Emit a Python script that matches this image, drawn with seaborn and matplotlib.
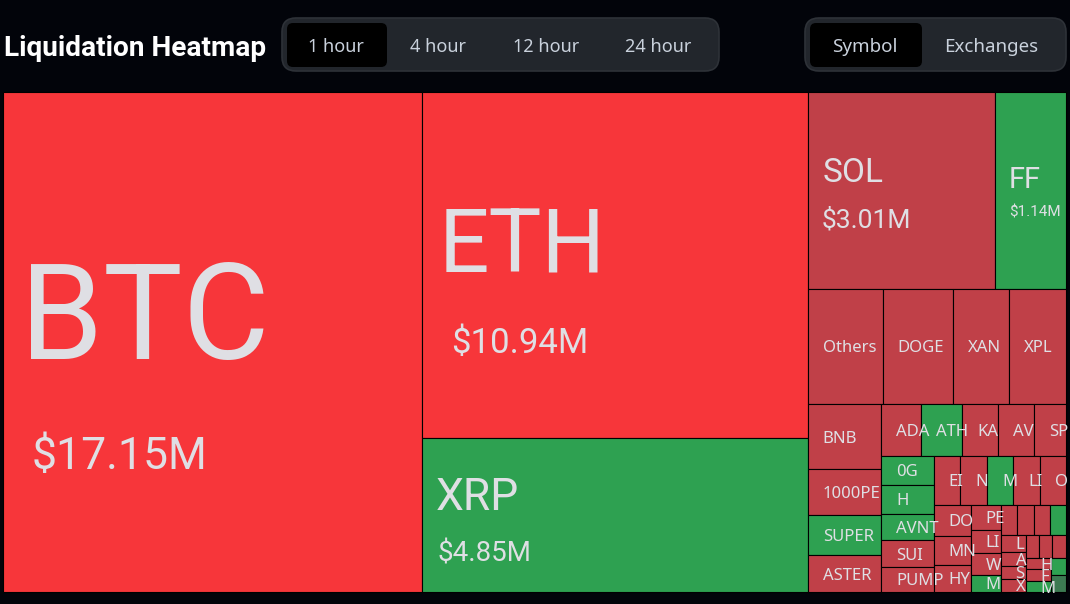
#!/usr/bin/env python3
"""Liquidation heatmap, treemap laid out from the liquidation amounts."""

import matplotlib
matplotlib.use("Agg")
import matplotlib.pyplot as plt
from matplotlib.patches import FancyBboxPatch, Rectangle
import seaborn as sns

# $M liquidated, status: 0 = heavy short, 1 = short, 2 = long, 3 = flat
symbols = ["BTC", "ETH", "XRP", "SOL", "FF", "Others", "DOGE", "XAN", "XPL",
           "BNB", "1000PE", "SUPER", "ASTER",
           "ADA", "ATH", "KA", "AV", "SP",
           "0G", "H", "AVNT", "SUI", "PUMP",
           "EI", "N", "M1", "LI1", "O",
           "DO", "MN", "HY",
           "PE", "LI2", "W", "M2",
           "c1", "c2", "c3", "c4",
           "L", "A", "S", "X",
           "d1", "d2", "d3",
           "H2", "F", "M3",
           "e1", "e2"]
amounts = [17.15, 10.94, 4.85, 3.01, 1.14, 0.71, 0.66, 0.53, 0.54,
           0.39, 0.276, 0.24, 0.222,
           0.168, 0.172, 0.151, 0.151, 0.134,
           0.126, 0.126, 0.113, 0.113, 0.109,
           0.108, 0.107, 0.106, 0.106, 0.105,
           0.094, 0.088, 0.082,
           0.062, 0.057, 0.054, 0.042,
           0.041, 0.041, 0.040, 0.039,
           0.035, 0.029, 0.027, 0.027,
           0.025, 0.025, 0.025,
           0.0226, 0.024, 0.022,
           0.021, 0.021]
status = [0, 0, 2, 1, 2, 1, 1, 1, 1,
          1, 1, 2, 1,
          1, 2, 1, 1, 1,
          2, 2, 2, 1, 1,
          1, 1, 2, 1, 1,
          1, 1, 1,
          1, 1, 1, 2,
          1, 1, 1, 2,
          1, 1, 1, 1,
          1, 1, 1,
          1, 1, 2,
          2, 3]
hidden_labels = {"c1", "c2", "c3", "c4", "d1", "d2", "d3", "e1", "e2"}

# nesting alternates: outer list runs left to right, next one top to bottom
tree = ["BTC", ["ETH", "XRP"], [
    ["SOL", "FF"],
    ["Others", "DOGE", "XAN", "XPL"],
    [["BNB", "1000PE", "SUPER", "ASTER"], [
        ["ADA", "ATH", "KA", "AV", "SP"],
        [["0G", "H", "AVNT", "SUI", "PUMP"], [
            ["EI", "N", "M1", "LI1", "O"],
            [["DO", "MN", "HY"], ["PE", "LI2", "W", "M2"], [
                ["c1", "c2", "c3", "c4"],
                [["L", "A", "S", "X"], [
                    ["d1", "d2", "d3"],
                    [["H2", "F", "M3"], ["e1", "e2"]],
                ]],
            ]],
        ]],
    ]],
]]

periods = ["1 hour", "4 hour", "12 hour", "24 hour"]
views = ["Symbol", "Exchanges"]

BG = "#02040a"
TEXT = "#dfdfe4"
PALETTE = sns.color_palette(["#f7363a", "#c04048", "#2ea151", "#3c7a52"])

# name size, name inset, name y, amount size, amount inset, amount y
BIG_LABELS = {
    "BTC": (96, 17, 322, 32, 28, 457),
    "ETH": (64, 17, 248, 25, 29, 343),
    "XRP": (32, 14, 498, 20, 15, 554),
    "SOL": (24, 15, 173, 19, 14, 220),
    "FF": (21, 14, 180, 11, 14, 212),
}

value_of = dict(zip(symbols, amounts))
status_of = dict(zip(symbols, status))


def total(node):
    """Sum the amounts below a tree node."""
    if isinstance(node, str):
        return value_of[node]
    return sum(total(child) for child in node)


def layout(node, x, y, w, h, across=True, cells=None):
    """Slice-and-dice the tree into rectangles sized by amount."""
    if cells is None:
        cells = {}
    if isinstance(node, str):
        cells[node] = (x, y, w, h)
        return cells
    node_total = total(node)
    for child in node:
        share = total(child) / node_total
        if across:
            layout(child, x, y, w * share, h, False, cells)
            x += w * share
        else:
            layout(child, x, y, w, h * share, True, cells)
            y += h * share
    return cells


def draw_pill(ax, x, w, active_w, labels, centers, size):
    """Draw a segmented button group with the first entry selected."""
    ax.add_patch(FancyBboxPatch((x + 14, 32), w - 28, 25,
                                boxstyle="round,pad=14,rounding_size=14",
                                fc="#22262c", ec="#2e3238", lw=1.2))
    ax.add_patch(FancyBboxPatch((x + 11, 29), active_w - 12, 32,
                                boxstyle="round,pad=6,rounding_size=6",
                                fc="#000000", ec="none"))
    for label, cx in zip(labels, centers):
        ax.text(cx, 46.5, label, ha="center", va="center", fontsize=size,
                color="#c9d1dc", family="Noto Sans")


def main():
    sns.set_theme(style="dark", rc={"figure.facecolor": BG, "axes.facecolor": BG,
                                    "savefig.facecolor": BG})
    plt.rcParams["font.family"] = ["Noto Sans", "DejaVu Sans"]

    fig = plt.figure(figsize=(10.7, 6.04), dpi=100)
    ax = fig.add_axes([0, 0, 1, 1])
    ax.set_xlim(0, 1070)
    ax.set_ylim(604, 0)
    ax.axis("off")

    ax.text(4, 49, "Liquidation Heatmap", ha="left", va="center", fontsize=20.2,
            fontweight="bold", color="#ffffff", family="Roboto")
    draw_pill(ax, 282, 437, 100, periods, [336, 438, 546, 658], 13)
    draw_pill(ax, 805, 261, 112, views, [865, 991], 13.5)

    cells = layout(tree, 3.2, 92.2, 1062.4, 499.8)
    for name, (x, y, w, h) in cells.items():
        rect = Rectangle((x, y), w, h, fc=PALETTE[status_of[name]], ec="#000000", lw=0.8)
        ax.add_patch(rect)
        if name in hidden_labels:
            continue
        if name in BIG_LABELS:
            size, inset, name_y, amount_size, amount_inset, amount_y = BIG_LABELS[name]
            ax.text(x + inset, name_y, name, ha="left", va="center", fontsize=size,
                    color=TEXT, family="Roboto", clip_on=True, clip_path=rect)
            ax.text(x + amount_inset, amount_y, f"${value_of[name]:.2f}M", ha="left",
                    va="center", fontsize=amount_size, color=TEXT, family="Roboto",
                    clip_on=True, clip_path=rect)
        else:
            # repeated tickers carry a digit in their id only
            label = name if name in ("0G", "1000PE") else name.rstrip("0123456789")
            ax.text(x + 15, y + h / 2 + 2, label, ha="left", va="center", fontsize=12,
                    color=TEXT, clip_on=True, clip_path=rect)

    fig.savefig("out.png", dpi=100, facecolor=BG)


if __name__ == "__main__":
    main()
